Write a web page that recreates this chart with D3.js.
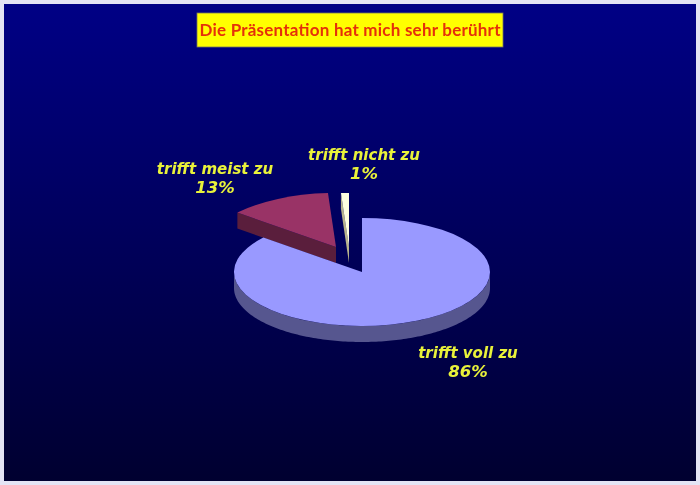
<!DOCTYPE html>
<html>
<head>
<meta charset="utf-8">
<script src="https://cdnjs.cloudflare.com/ajax/libs/d3/7.8.5/d3.min.js"></script>
<style>
    html, body { margin: 0; padding: 0; background: #fff; }
    svg { display: block; filter: blur(0.4px); }
    .label { font-family: "DejaVu Sans", sans-serif; font-weight: bold; font-style: italic; font-size: 15px; fill: #e9f23a; text-anchor: middle; }
    .label .share { font-size: 16.5px; }
</style>
</head>
<body>
<svg id="chart" width="700" height="485"></svg>
<script>
const title = "Die Präsentation hat mich sehr berührt";
const categories = ["trifft voll zu", "trifft meist zu", "trifft nicht zu"];
const shares = [86, 13, 1];

const topColours = ["#9999ff", "#993366", "#ffffe0"];
const sideColours = ["#56568f", "#5a1e3c", "#b8b48c"];

const svg = d3.select("#chart");

// panel background
let gradient = svg.append("defs").append("linearGradient")
    .attr("id", "panel-gradient")
    .attr("x1", "0%").attr("y1", "0%")
    .attr("x2", "0%").attr("y2", "100%");
gradient.append("stop").attr("offset", "0%").attr("stop-color", "#000085");
gradient.append("stop").attr("offset", "100%").attr("stop-color", "#000030");

svg.append("rect").attr("width", 700).attr("height", 485).attr("fill", "#e4e4f4");
svg.append("rect")
    .attr("x", 4).attr("y", 4)
    .attr("width", 692).attr("height", 477)
    .attr("fill", "url(#panel-gradient)");

// title box
svg.append("rect")
    .attr("x", 197).attr("y", 13)
    .attr("width", 306).attr("height", 34)
    .attr("fill", "#ffff00")
    .attr("stroke", "#77775a")
    .attr("stroke-width", 0.8);
svg.append("text")
    .attr("x", 350).attr("y", 36)
    .attr("text-anchor", "middle")
    .attr("textLength", 301)
    .attr("lengthAdjust", "spacing")
    .style("font-family", "Lato, sans-serif")
    .style("font-weight", "bold")
    .style("font-size", "17px")
    .style("fill", "#e5300a")
    .text(title);

// pie, flattened to an ellipse
const radiusX = 128, radiusY = 54, depth = 16;
const centres = [[362, 272], [336, 247], [349, 247]];
const labelPositions = [[468, 358], [215, 174], [364, 160]];

const slices = d3.pie().sort(null)(shares);
const arc = d3.arc().innerRadius(0).outerRadius(radiusX);
const rimPoint = a => [radiusX * Math.sin(a), -radiusY * Math.cos(a)];

// sides first, back to front
[1, 2, 0].forEach(i => {
    const s = slices[i];
    const g = svg.append("g").attr("transform", `translate(${centres[i]})`);

    // outer wall, only the part which faces the viewer
    const from = Math.max(s.startAngle, Math.PI / 2);
    const to = Math.min(s.endAngle, Math.PI * 1.5);
    if (to > from) {
        const angles = d3.range(from, to, 0.02).concat([to]);
        const rim = angles.map(rimPoint);
        const wall = rim.concat(rim.slice().reverse().map(p => [p[0], p[1] + depth]));
        g.append("path")
            .attr("d", d3.line()(wall) + "Z")
            .attr("fill", sideColours[i]);
    }

    // cut wall seen on the exploded slices
    if (i > 0) {
        const p = rimPoint(s.startAngle);
        const cut = [[0, 0], p, [p[0], p[1] + depth], [0, depth]];
        g.append("path")
            .attr("d", d3.line()(cut) + "Z")
            .attr("fill", sideColours[i]);
    }

    g.append("path")
        .attr("transform", `scale(1, ${radiusY / radiusX})`)
        .attr("d", arc(s))
        .attr("fill", topColours[i]);
});

// labels
categories.forEach((c, i) => {
    const t = svg.append("text")
        .attr("class", "label")
        .attr("x", labelPositions[i][0])
        .attr("y", labelPositions[i][1]);
    t.append("tspan").attr("x", labelPositions[i][0]).text(c);
    t.append("tspan").attr("class", "share").attr("x", labelPositions[i][0]).attr("dy", 19).text(shares[i] + "%");
});
</script>
</body>
</html>
